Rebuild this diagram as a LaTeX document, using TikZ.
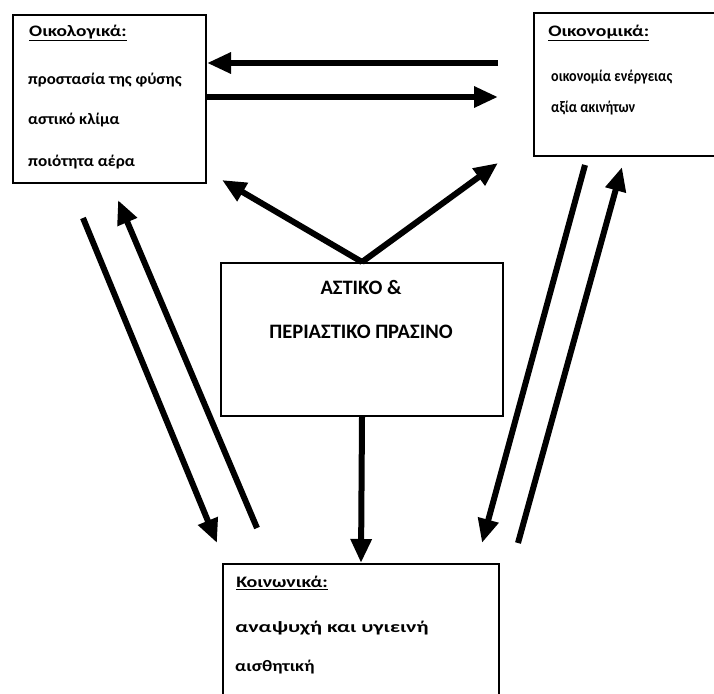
\documentclass[tikz,border=0pt]{standalone}
\usepackage{fontspec}
\setmainfont{Carlito}
\usetikzlibrary{arrows.meta}
\begin{document}
\begin{tikzpicture}[x=1pt,y=-1pt,
  box/.style={draw, line width=2pt, inner sep=0pt, anchor=north west},
  txt/.style={anchor=west, inner sep=0pt, font=\bfseries\fontsize{16}{18}\selectfont},
  ctxt/.style={anchor=center, inner sep=0pt, font=\bfseries\fontsize{20.5}{23}\selectfont},
  big/.style={line width=6pt, -{Triangle[length=24pt,width=20pt]}}]
\useasboundingbox (0,0) rectangle (714,693);
\fill[white] (0,0) rectangle (714,693);
% boxes
\node[box, minimum width=193pt, minimum height=168pt] (eco) at (12,14) {};
\node[box, minimum width=190pt, minimum height=143pt] (oik) at (533,12) {};
\node[box, minimum width=282pt, minimum height=153pt] (green) at (220,262) {};
\node[box, minimum width=276pt, minimum height=140pt] (soc) at (222,563) {};
% texts
\node[txt, xscale=1.21] (t1) at (29,33) {\underline{Οικολογικά:}};
\node[txt, xscale=1.05] (t2) at (28,80) {προστασία της φύσης};
\node[txt, xscale=1.05] (t3) at (28,120) {αστικό κλίμα};
\node[txt, xscale=1.07] (t4) at (28,162) {ποιότητα αέρα};
\node[txt, xscale=1.23] (r1) at (548,33) {\underline{Οικονομικά:}};
\node[txt, xscale=0.88] (r2) at (551,77) {οικονομία ενέργειας};
\node[txt, xscale=0.88] (r3) at (551,108) {αξία ακινήτων};
\node[ctxt] (c1) at (361,287) {ΑΣΤΙΚΟ \&};
\node[ctxt] (c2) at (361,332) {ΠΕΡΙΑΣΤΙΚΟ ΠΡΑΣΙΝΟ};
\node[txt, xscale=1.25] (b1) at (236,583) {\underline{Κοινωνικά:}};
\node[txt, xscale=1.38] (b2) at (235,628) {αναψυχή και υγιεινή};
\node[txt, xscale=1.18] (b3) at (235,667) {αισθητική};
% free ends
\coordinate (h1s) at (498,63);
\coordinate (h2e) at (498,97);
\coordinate (dl) at (222,180);
\coordinate (dr) at (498,163);
\coordinate (l1s) at (83,218);
\coordinate (l1e) at (217,543);
\coordinate (l2s) at (257,528);
\coordinate (l2e) at (118,200);
\coordinate (r1s) at (585,165);
\coordinate (r1e) at (482,543);
\coordinate (r2s) at (518,543);
\coordinate (r2e) at (622,167);
% connectors
\draw[big] (h1s) -- (eco.east |- h1s);
\draw[big] (eco.east |- h2e) -- (h2e);
\draw[big] (green.north) -- (dl);
\draw[big] (green.north) -- (dr);
\draw[big] (green.south) -- (soc.north);
\draw[big] (l1s) -- (l1e);
\draw[big] (l2s) -- (l2e);
\draw[big] (r1s) -- (r1e);
\draw[big] (r2s) -- (r2e);
\end{tikzpicture}
\end{document}
